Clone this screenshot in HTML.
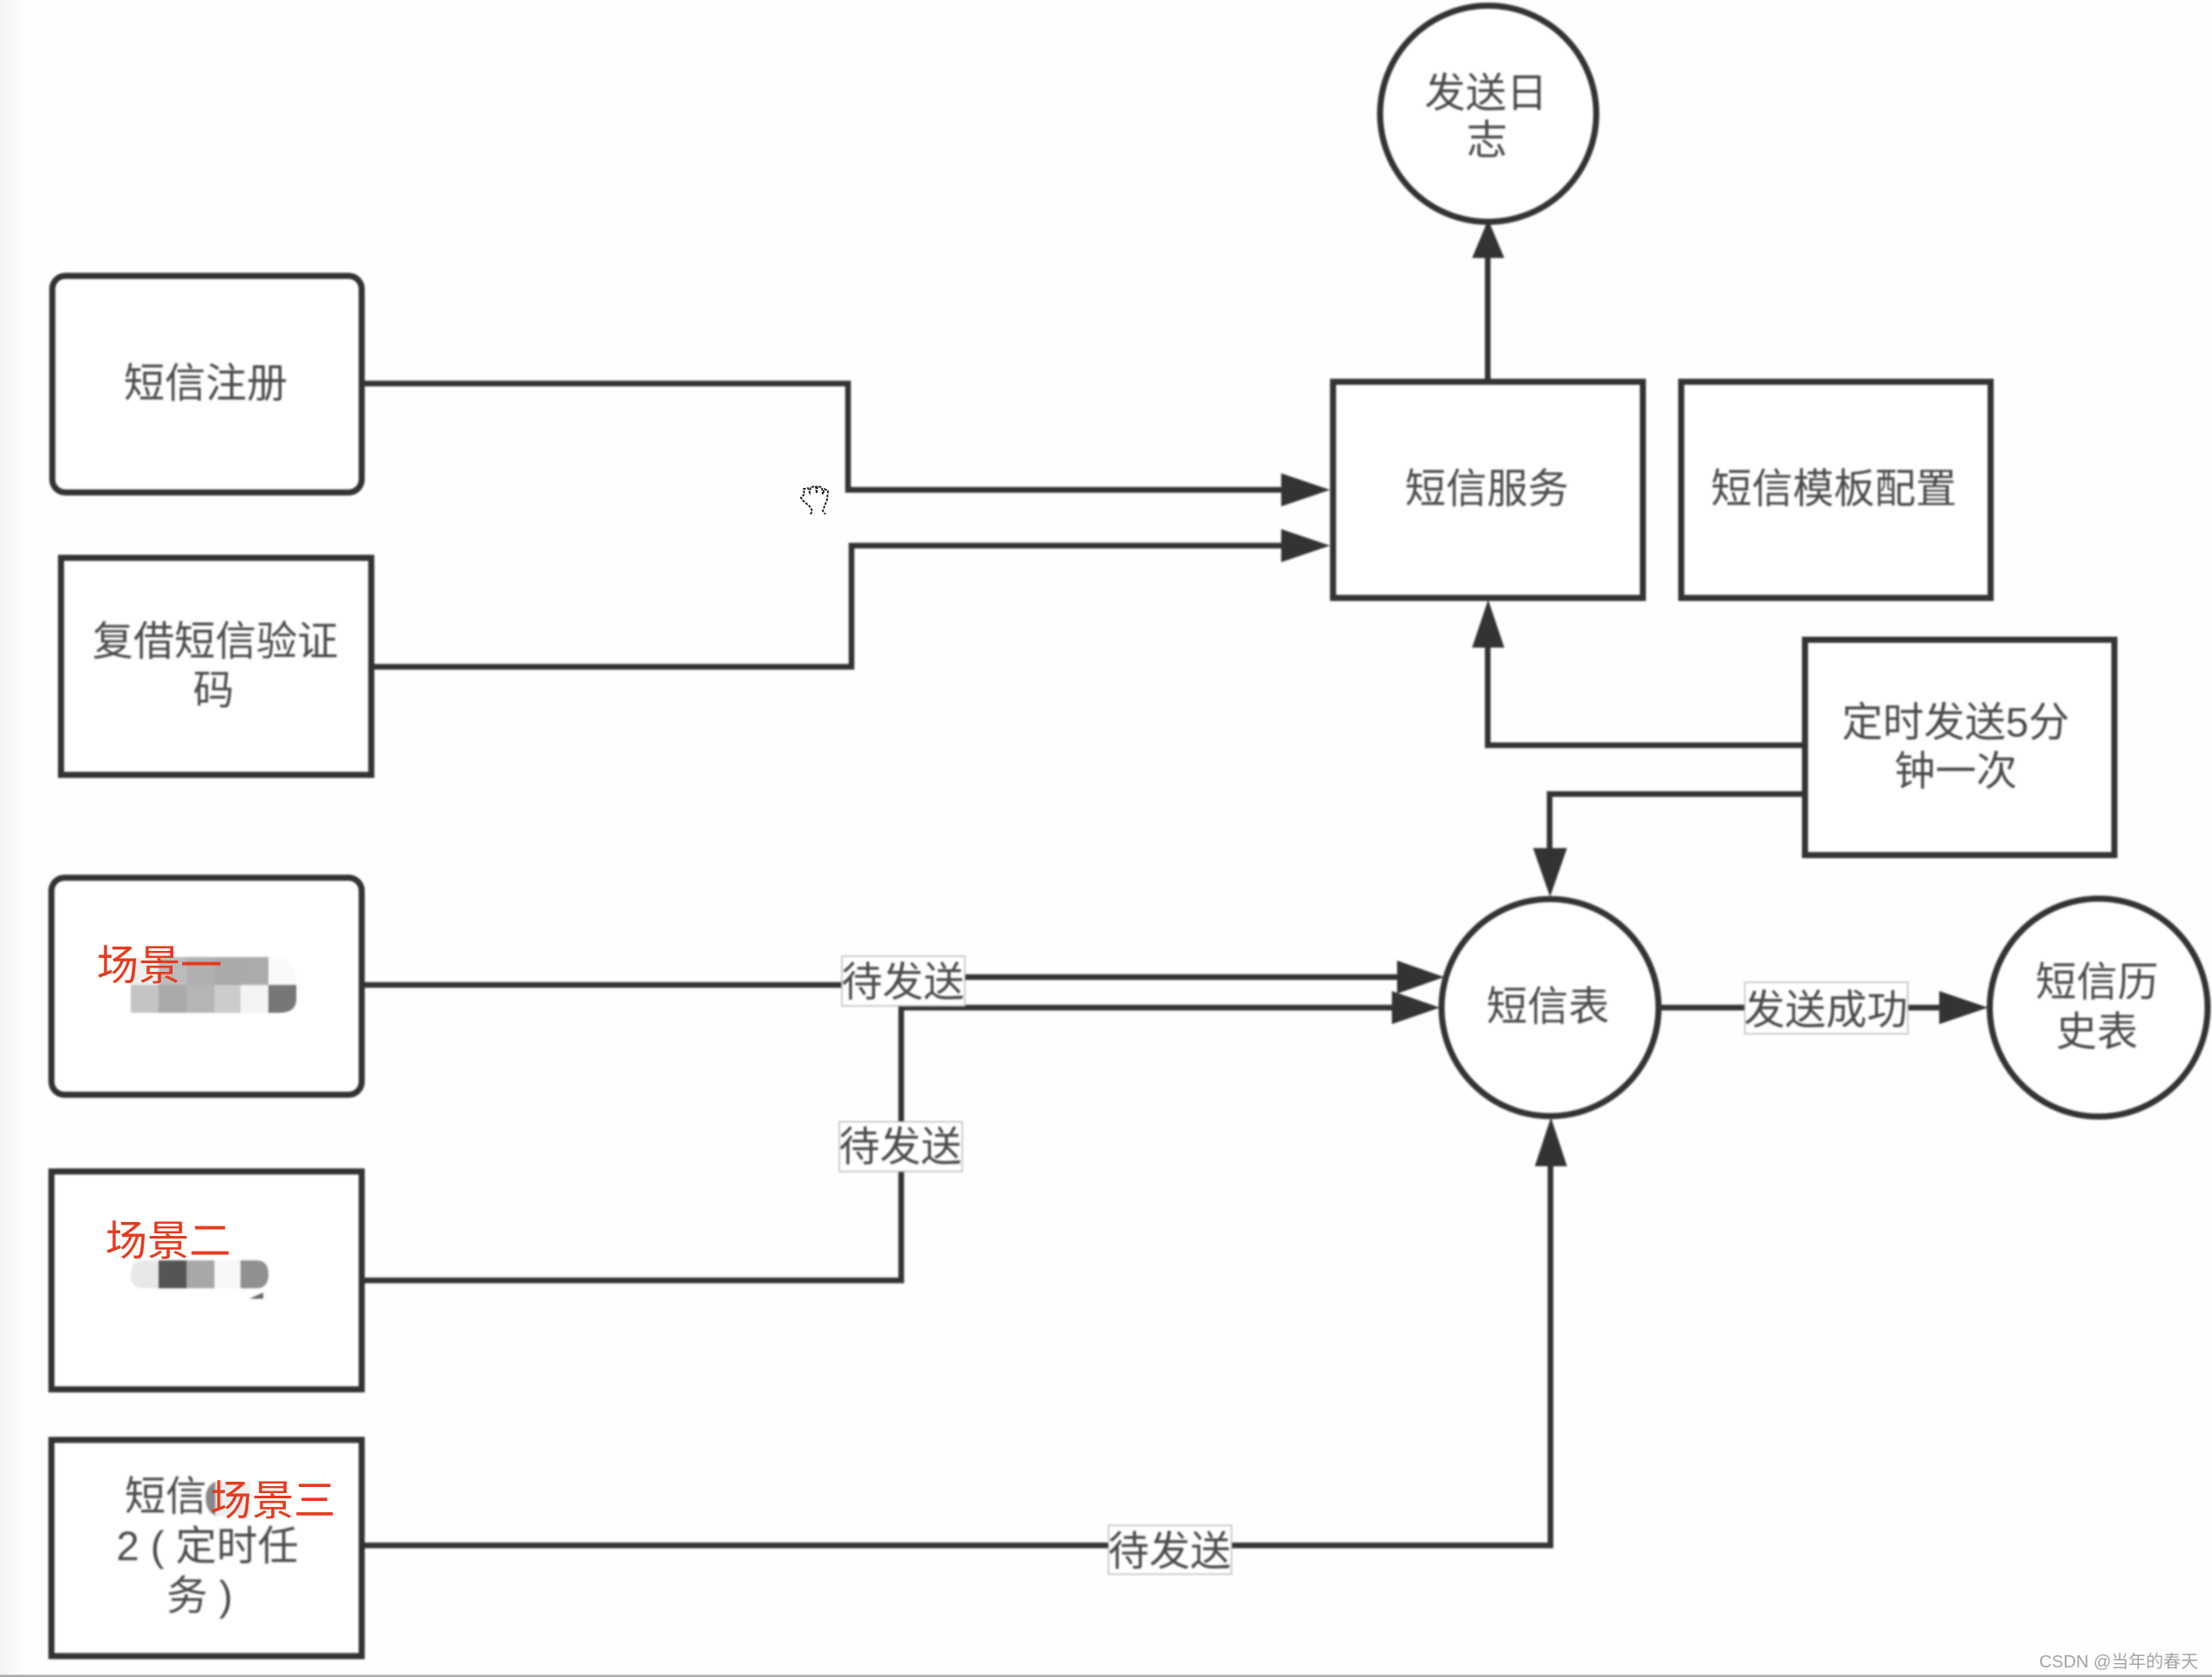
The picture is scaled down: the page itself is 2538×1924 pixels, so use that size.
<!DOCTYPE html>
<html lang="zh">
<head>
<meta charset="utf-8">
<title>短信流程图</title>
<style>
html,body{margin:0;padding:0;background:#fefefe;width:2538px;height:1924px;overflow:hidden}
svg{display:block;position:absolute;left:0;top:0}
text{font-family:"Liberation Sans","Noto Sans CJK SC",sans-serif;font-size:47px;fill:#4a4a4a;text-anchor:middle}
.blur{filter:blur(1.1px)}
text.red{fill:#e8391d;text-anchor:start;font-size:48px}
.shape{fill:#fff;stroke:#333;stroke-width:7}
.line{fill:none;stroke:#333;stroke-width:6.5}
.head{fill:#333;stroke:none}
.lab{fill:#fff;stroke:#bbb;stroke-width:1.5}
</style>
</head>
<body>
<svg width="2538" height="1924" viewBox="0 0 2538 1924" xmlns="http://www.w3.org/2000/svg">
<defs>
<linearGradient id="edge" x1="0" x2="1" y1="0" y2="0">
<stop offset="0" stop-color="#f4f4f4"/><stop offset="1" stop-color="#fefefe"/>
</linearGradient>
</defs>
<rect x="0" y="0" width="30" height="1924" fill="url(#edge)"/>

<g class="blur">
<!-- connectors -->
<path class="line" d="M418 440H973V562H1475"/>
<path class="line" d="M429 765H977V626H1475"/>
<path class="line" d="M1707 435V290"/>
<path class="line" d="M2068 855H1707V738"/>
<path class="line" d="M2068 911H1778V978"/>
<path class="line" d="M418 1130H1036V1121H1608"/>
<path class="line" d="M418 1469H1034V1156H1602"/>
<path class="line" d="M418 1773H1779V1333"/>
<path class="line" d="M1906 1156H2230"/>

<!-- boxes -->
<rect class="shape" x="60" y="316.500" width="355" height="248.500" rx="15"/>
<rect class="shape" x="70" y="640" width="356" height="249"/>
<rect class="shape" x="59" y="1007" width="356" height="249" rx="15"/>
<rect class="shape" x="59" y="1344" width="356" height="250"/>
<rect class="shape" x="59" y="1652" width="356" height="248"/>
<rect class="shape" x="1529.500" y="438" width="355.500" height="248"/>
<rect class="shape" x="1929" y="438" width="355" height="248"/>
<rect class="shape" x="2071" y="734" width="355" height="247"/>
<circle class="shape" cx="1707.500" cy="130.500" r="124"/>
<circle class="shape" cx="1778.500" cy="1156" r="124.500"/>
<circle class="shape" cx="2408" cy="1156" r="125"/>

<!-- arrowheads -->
<polygon class="head" points="1470,543 1526,562 1470,581"/>
<polygon class="head" points="1470,607 1526,626 1470,645"/>
<polygon class="head" points="1689,296 1707.500,252 1726,296"/>
<polygon class="head" points="1689,743 1707.500,688 1726,743"/>
<polygon class="head" points="1759,973 1798,973 1778.500,1029"/>
<polygon class="head" points="1603,1102 1657,1121 1603,1140"/>
<polygon class="head" points="1597,1137 1652,1156 1597,1175"/>
<polygon class="head" points="1761,1338 1779.500,1282 1798,1338"/>
<polygon class="head" points="2225,1137 2281,1156 2225,1175"/>

<!-- mosaic scene 1 -->
<rect x="150" y="1098" width="32" height="32" fill="#efefef"/>
<rect x="182" y="1098" width="32" height="32" fill="#bbb"/>
<rect x="214" y="1098" width="32" height="32" fill="#b0b0b0"/>
<rect x="246" y="1098" width="30" height="32" fill="#aaa"/>
<rect x="276" y="1098" width="32" height="32" fill="#ababab"/>
<path d="M308 1098h10q22 3 22 32h-32z" fill="#fafafa"/>
<rect x="150" y="1130" width="32" height="32" fill="#c4c4c4"/>
<rect x="182" y="1130" width="32" height="32" fill="#aaa"/>
<rect x="214" y="1130" width="32" height="32" fill="#b5b5b5"/>
<rect x="246" y="1130" width="30" height="32" fill="#ccc"/>
<rect x="276" y="1130" width="32" height="32" fill="#f4f4f4"/>
<path d="M308 1130h32v16q0 16-20 16h-12z" fill="#777"/>

<!-- mosaic scene 2 -->
<path d="M182 1446h-18q-14 0-14 16t14 16h18z" fill="#e8e8e8"/>
<rect x="182" y="1446" width="32" height="32" fill="#555"/>
<rect x="214" y="1446" width="32" height="32" fill="#a8a8a8"/>
<rect x="246" y="1446" width="30" height="32" fill="#f8f8f8"/>
<path d="M276 1446h18q14 0 14 16t-14 16h-18z" fill="#909090"/>
<path d="M286 1490l16-7v7z" fill="#666"/>

<!-- mosaic scene 3 -->
<path d="M247 1700h40v39h-40q-11-6-11-20t11-19z" fill="#eee"/>
<path d="M247 1700v39q-11-6-11-20t11-19z" fill="#888"/>

<!-- labels on lines -->
<rect class="lab" x="966" y="1097" width="141" height="57"/>
<rect class="lab" x="963" y="1287" width="141" height="57"/>
<rect class="lab" x="1272" y="1750" width="141" height="56"/>
<rect class="lab" x="2002" y="1127" width="187" height="59"/>

<!-- node text -->
<text x="236" y="456">短信注册</text>
<text x="247" y="752">复借短信验证</text>
<text x="245" y="808">码</text>
<text x="1706" y="577">短信服务</text>
<text x="2104" y="577">短信模板配置</text>
<text x="1705" y="123">发送日</text>
<text x="1706" y="177">志</text>
<text x="2244" y="845">定时发送5分</text>
<text x="2244" y="901">钟一次</text>
<text x="1776" y="1171">短信表</text>
<text x="2406" y="1143">短信历</text>
<text x="2406" y="1200">史表</text>
<text x="1036" y="1143">待发送</text>
<text x="1033" y="1332">待发送</text>
<text x="1342" y="1796">待发送</text>
<text x="2095" y="1175">发送成功</text>
<text x="190" y="1733">短信</text>
<text x="238" y="1790" xml:space="preserve">2 ( 定时任</text>
<text x="229" y="1847" xml:space="preserve">务 )</text>
</g>

<!-- red overlays -->
<text class="red" x="111" y="1124">场景一</text>
<text class="red" x="121" y="1440">场景二</text>
<text class="red" x="241" y="1738">场景三</text>

<!-- hand cursor -->
<path d="M928 590l2-4-3-5-8-7-2-3 4-4-1-6 5-1 2 5 1-6 6-1 1 8 1-8 5 1 1 8 2-6 4 2-1 10-3 8-2 5 3 4" fill="none" stroke="#111" stroke-width="1.800" stroke-dasharray="3 1.500" transform="translate(2,0)"/>

<!-- watermark and bottom edge -->
<text x="2431" y="1913" style="font-size:20px;fill:#a3a3a3">CSDN @当年的春天</text>
<rect x="0" y="1921.500" width="2538" height="2.500" fill="#aaa"/>
</svg>
</body>
</html>
